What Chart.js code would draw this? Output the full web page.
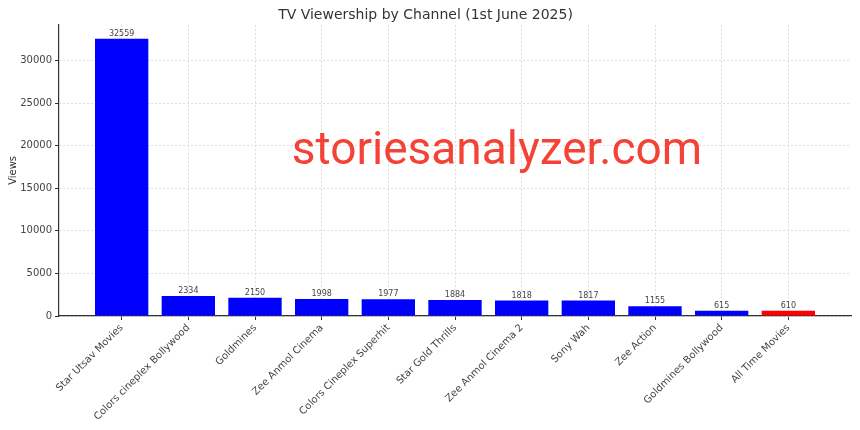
<!DOCTYPE html>
<html>
<head>
<meta charset="utf-8">
<script src="https://cdn.jsdelivr.net/npm/chart.js@4.4.0/dist/chart.umd.min.js"></script>
<style>
  html, body { margin: 0; padding: 0; background: #fff; }
  #wrap { width: 860px; height: 430px; }
</style>
</head>
<body>
<div id="wrap"><canvas id="tvChart" width="860" height="430"></canvas></div>
<script>
const channels = ['Star Utsav Movies', 'Colors cineplex Bollywood', 'Goldmines', 'Zee Anmol Cinema',
  'Colors Cineplex Superhit', 'Star Gold Thrills', 'Zee Anmol Cinema 2', 'Sony Wah',
  'Zee Action', 'Goldmines Bollywood', 'All Time Movies'];
const views = [32559, 2334, 2150, 1998, 1977, 1884, 1818, 1817, 1155, 615, 610];
const barColors = ['#0000ff', '#0000ff', '#0000ff', '#0000ff', '#0000ff', '#0000ff',
  '#0000ff', '#0000ff', '#0000ff', '#0000ff', '#ff0000'];
const yTicks = [0, 5000, 10000, 15000, 20000, 25000, 30000];

const FONT = 'DejaVu Sans';

// value labels above each bar
const valueLabels = {
  id: 'valueLabels',
  afterDatasetsDraw(chart) {
    const ctx = chart.ctx;
    const meta = chart.getDatasetMeta(0);
    ctx.save();
    ctx.font = '8px "' + FONT + '"';
    ctx.fillStyle = '#444';
    ctx.textAlign = 'center';
    ctx.textBaseline = 'bottom';
    meta.data.forEach((bar, i) => {
      ctx.fillText(views[i], bar.x, bar.y - 1);
    });
    ctx.restore();
  }
};

// site watermark
const watermark = {
  id: 'watermark',
  afterDraw(chart) {
    const a = chart.chartArea;
    const ctx = chart.ctx;
    ctx.save();
    ctx.font = '46px Roboto';
    ctx.fillStyle = '#f44336';
    ctx.textAlign = 'center';
    ctx.textBaseline = 'middle';
    ctx.fillText('storiesanalyzer.com', a.left + (a.right - a.left) * 0.553, a.top + (a.bottom - a.top) * 0.44);
    ctx.restore();
  }
};

new Chart(document.getElementById('tvChart'), {
  type: 'bar',
  data: {
    datasets: [{
      data: channels.map((c, i) => ({ x: i, y: views[i] })),
      backgroundColor: barColors,
      borderWidth: 0,
      barPercentage: 1,
      categoryPercentage: 0.8
    }]
  },
  options: {
    responsive: false,
    animation: false,
    layout: { padding: { left: 0, right: 9, top: 0, bottom: 0 } },
    plugins: {
      legend: { display: false },
      tooltip: { enabled: false },
      title: {
        display: true,
        text: 'TV Viewership by Channel (1st June 2025)',
        color: '#333',
        font: { family: FONT, size: 14, weight: 'normal' },
        padding: { top: 7, bottom: 1 }
      }
    },
    scales: {
      x: {
        type: 'linear',
        offset: false,
        min: -0.94,
        max: 10.94,
        afterBuildTicks: axis => { axis.ticks = channels.map((c, i) => ({ value: i })); },
        afterFit: axis => { axis.height = 114; },
        ticks: {
          autoSkip: false,
          minRotation: 45,
          maxRotation: 45,
          color: '#444',
          font: { family: FONT, size: 10 },
          padding: 2,
          callback: value => channels[value]
        },
        grid: {
          offset: false,
          color: '#dddddd',
          tickColor: '#333',
          tickLength: 4
        },
        border: { color: '#333', width: 1.2, dash: [2, 2] }
      },
      y: {
        min: 0,
        max: 34187,
        afterBuildTicks: axis => { axis.ticks = yTicks.map(v => ({ value: v })); },
        afterFit: axis => { axis.width = 59; },
        ticks: {
          color: '#444',
          font: { family: FONT, size: 10 },
          padding: 3,
          callback: value => String(value)
        },
        grid: {
          color: '#dddddd',
          tickColor: '#333',
          tickLength: 4
        },
        border: { color: '#333', width: 1.2, dash: [2, 2] },
        title: {
          display: true,
          text: 'Views',
          color: '#333',
          font: { family: FONT, size: 10 },
          padding: { top: 7, bottom: 6 }
        }
      }
    }
  },
  plugins: [valueLabels, watermark]
});
</script>
</body>
</html>
